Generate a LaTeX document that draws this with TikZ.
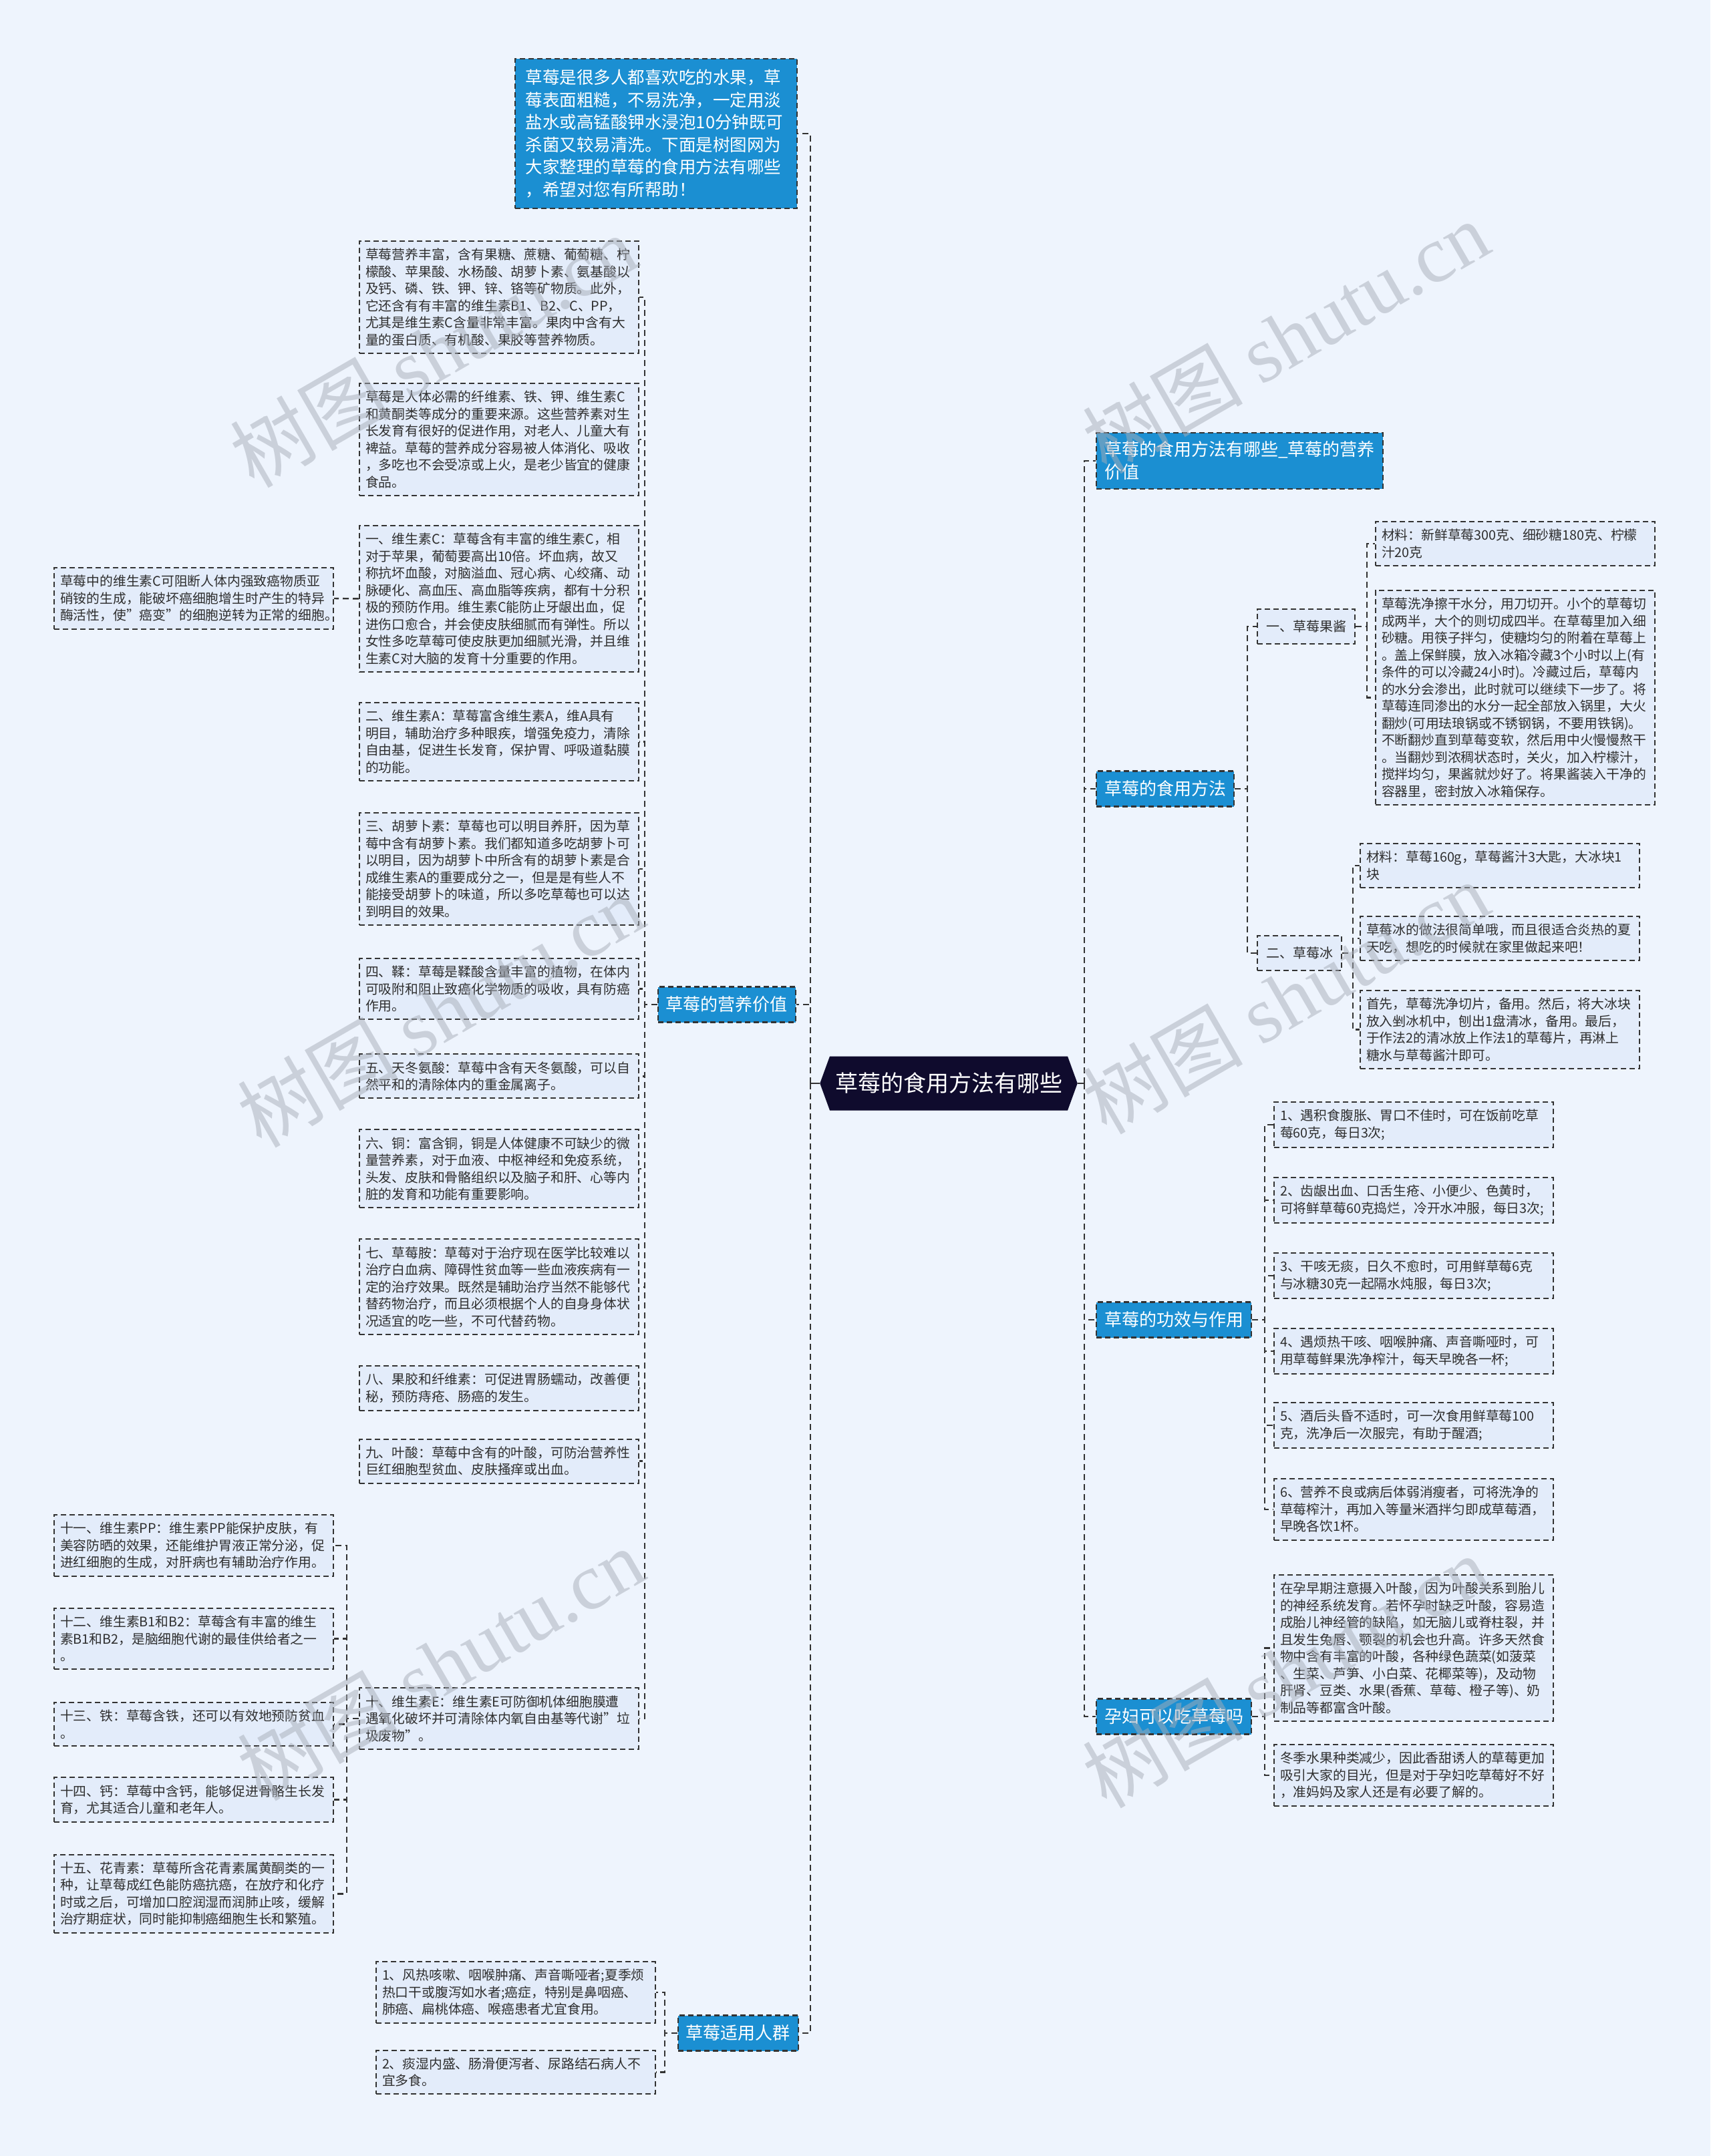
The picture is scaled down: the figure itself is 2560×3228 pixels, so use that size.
\documentclass[tikz,border=0pt]{standalone}
\usepackage{fontspec}
\setmainfont{Noto Sans CJK SC}
\newfontfamily\wmlatin{Liberation Serif}
\usetikzlibrary{positioning,shapes.symbols}
\definecolor{pagebg}{HTML}{EEF4FD}
\definecolor{topicblue}{HTML}{1B8FD2}
\definecolor{leaffill}{HTML}{E3ECFA}
\definecolor{linegray}{HTML}{333333}
\definecolor{textgray}{HTML}{2E2E2E}
\definecolor{rootnavy}{HTML}{0F0B2D}
\definecolor{markgray}{HTML}{A7ADB8}

\begin{document}
\begin{tikzpicture}[x=1pt,y=-1pt,
  node distance=44pt,
  root/.style={signal,signal to=west and east,signal pointer angle=140,fill=rootnavy,text=white,
    minimum width=375pt,minimum height=81pt,inner xsep=8pt,font=\fontsize{34}{40}\selectfont},
  topic/.style={fill=topicblue,draw=linegray,line width=2.2pt,dash pattern=on 8pt off 5pt,
    text=white,align=left,inner xsep=12pt,inner ysep=13pt,minimum height=53pt,
    font=\fontsize{26}{34}\selectfont},
  sub/.style={fill=leaffill,draw=linegray,line width=2pt,dash pattern=on 8pt off 5pt,
    text=textgray,inner xsep=13pt,minimum height=52pt,font=\fontsize{20}{26}\selectfont},
  leaf/.style={fill=leaffill,draw=linegray,line width=2pt,dash pattern=on 8pt off 5pt,
    text=textgray,align=left,text width=400pt,inner xsep=9pt,inner ysep=11pt,
    font=\fontsize{19.8}{25.5}\selectfont},
  link/.style={draw=linegray,line width=2.4pt,dash pattern=on 9pt off 6pt},
  stub/.style={draw=linegray,line width=2.6pt},
  wmark/.style={rotate=30,text=markgray,text opacity=0.5,font=\fontsize{120}{130}\selectfont}
]
\fill[pagebg] (0,0) rectangle (2560,3228);
\useasboundingbox (0,0) rectangle (2560,3228);

\node[root] (root) at (1420,1622) {草莓的食用方法有哪些};

% left side
\node[topic,anchor=east,text width=390pt,inner xsep=16pt,inner ysep=16pt,
  font=\fontsize{25.5}{33.5}\selectfont] (intro) at (1194,200) {草莓是很多人都喜欢吃的水果，草\\莓表面粗糙，不易洗净，一定用淡\\盐水或高锰酸钾水浸泡10分钟既可\\杀菌又较易清洗。下面是树图网为\\大家整理的草莓的食用方法有哪些\\，希望对您有所帮助！};
\node[topic,anchor=east] (nutri) at (1192,1504) {草莓的营养价值};
\node[topic,anchor=east] (crowd) at (1196,3044) {草莓适用人群};

\node[leaf,anchor=north west] (n1) at (537,360) {草莓营养丰富，含有果糖、蔗糖、葡萄糖、柠\\檬酸、苹果酸、水杨酸、胡萝卜素、氨基酸以\\及钙、磷、铁、钾、锌、铬等矿物质。此外，\\它还含有有丰富的维生素B1、B2、C、PP，\\尤其是维生素C含量非常丰富。果肉中含有大\\量的蛋白质、有机酸、果胶等营养物质。};
\node[leaf,below=43pt of n1] (n2) {草莓是人体必需的纤维素、铁、钾、维生素C\\和黄酮类等成分的重要来源。这些营养素对生\\长发育有很好的促进作用，对老人、儿童大有\\裨益。草莓的营养成分容易被人体消化、吸收\\，多吃也不会受凉或上火，是老少皆宜的健康\\食品。};
\node[leaf,below=43pt of n2] (n3) {一、维生素C：草莓含有丰富的维生素C，相\\对于苹果，葡萄要高出10倍。坏血病，故又\\称抗坏血酸，对脑溢血、冠心病、心绞痛、动\\脉硬化、高血压、高血脂等疾病，都有十分积\\极的预防作用。维生素C能防止牙龈出血，促\\进伤口愈合，并会使皮肤细腻而有弹性。所以\\女性多吃草莓可使皮肤更加细腻光滑，并且维\\生素C对大脑的发育十分重要的作用。};
\node[leaf,below=44pt of n3] (n4) {二、维生素A：草莓富含维生素A，维A具有\\明目，辅助治疗多种眼疾，增强免疫力，清除\\自由基，促进生长发育，保护胃、呼吸道黏膜\\的功能。};
\node[leaf,below=46pt of n4] (n5) {三、胡萝卜素：草莓也可以明目养肝，因为草\\莓中含有胡萝卜素。我们都知道多吃胡萝卜可\\以明目，因为胡萝卜中所含有的胡萝卜素是合\\成维生素A的重要成分之一，但是是有些人不\\能接受胡萝卜的味道，所以多吃草莓也可以达\\到明目的效果。};
\node[leaf,below=48pt of n5] (n6) {四、鞣：草莓是鞣酸含量丰富的植物，在体内\\可吸附和阻止致癌化学物质的吸收，具有防癌\\作用。};
\node[leaf,below=50pt of n6] (n7) {五、天冬氨酸：草莓中含有天冬氨酸，可以自\\然平和的清除体内的重金属离子。};
\node[leaf,below=45pt of n7] (n8) {六、铜：富含铜，铜是人体健康不可缺少的微\\量营养素，对于血液、中枢神经和免疫系统，\\头发、皮肤和骨骼组织以及脑子和肝、心等内\\脏的发育和功能有重要影响。};
\node[leaf,below=45pt of n8] (n9) {七、草莓胺：草莓对于治疗现在医学比较难以\\治疗白血病、障碍性贫血等一些血液疾病有一\\定的治疗效果。既然是辅助治疗当然不能够代\\替药物治疗，而且必须根据个人的自身身体状\\况适宜的吃一些，不可代替药物。};
\node[leaf,below=45pt of n9] (n10) {八、果胶和纤维素：可促进胃肠蠕动，改善便\\秘，预防痔疮、肠癌的发生。};
\node[leaf,below=41pt of n10] (n11) {九、叶酸：草莓中含有的叶酸，可防治营养性\\巨红细胞型贫血、皮肤搔痒或出血。};
\node[leaf,anchor=west] (n12) at (537,2573) {十、维生素E：维生素E可防御机体细胞膜遭\\遇氧化破坏并可清除体内氧自由基等代谢"垃\\圾废物"。};

\node[leaf,anchor=east] (c1) at (500,896) {草莓中的维生素C可阻断人体内强致癌物质亚\\硝铵的生成，能破坏癌细胞增生时产生的特异\\酶活性，使"癌变"的细胞逆转为正常的细胞。};

\node[leaf,anchor=north east] (e11) at (500,2267) {十一、维生素PP：维生素PP能保护皮肤，有\\美容防晒的效果，还能维护胃液正常分泌，促\\进红细胞的生成，对肝病也有辅助治疗作用。};
\node[leaf,below=46pt of e11] (e12) {十二、维生素B1和B2：草莓含有丰富的维生\\素B1和B2，是脑细胞代谢的最佳供给者之一\\。};
\node[leaf,below=48pt of e12] (e13) {十三、铁：草莓含铁，还可以有效地预防贫血\\。};
\node[leaf,below=45pt of e13] (e14) {十四、钙：草莓中含钙，能够促进骨骼生长发\\育，尤其适合儿童和老年人。};
\node[leaf,below=47pt of e14] (e15) {十五、花青素：草莓所含花青素属黄酮类的一\\种，让草莓成红色能防癌抗癌，在放疗和化疗\\时或之后，可增加口腔润湿而润肺止咳，缓解\\治疗期症状，同时能抑制癌细胞生长和繁殖。};

\node[leaf,anchor=north west] (p1) at (562,2936) {1、风热咳嗽、咽喉肿痛、声音嘶哑者;夏季烦\\热口干或腹泻如水者;癌症，特别是鼻咽癌、\\肺癌、扁桃体癌、喉癌患者尤宜食用。};
\node[leaf,below=39pt of p1] (p2) {2、痰湿内盛、肠滑便泻者、尿路结石病人不\\宜多食。};

% right side
\node[topic,anchor=west] (subtitle) at (1640,690) {草莓的食用方法有哪些\_草莓的营养\\价值};
\node[topic,anchor=west] (method) at (1640,1181) {草莓的食用方法};
\node[topic,anchor=west] (effect) at (1640,1976) {草莓的功效与作用};
\node[topic,anchor=west] (preg) at (1640,2570) {孕妇可以吃草莓吗};

\node[sub,anchor=west] (jam) at (1881,938) {一、草莓果酱};
\node[sub,anchor=west] (ice) at (1881,1427) {二、草莓冰};

\node[leaf,anchor=north west] (j1) at (2058,780) {材料：新鲜草莓300克、细砂糖180克、柠檬\\汁20克};
\node[leaf,below=35pt of j1] (j2) {草莓洗净擦干水分，用刀切开。小个的草莓切\\成两半，大个的则切成四半。在草莓里加入细\\砂糖。用筷子拌匀，使糖均匀的附着在草莓上\\。盖上保鲜膜，放入冰箱冷藏3个小时以上(有\\条件的可以冷藏24小时)。冷藏过后，草莓内\\的水分会渗出，此时就可以继续下一步了。将\\草莓连同渗出的水分一起全部放入锅里，大火\\翻炒(可用珐琅锅或不锈钢锅，不要用铁锅)。\\不断翻炒直到草莓变软，然后用中火慢慢熬干\\。当翻炒到浓稠状态时，关火，加入柠檬汁，\\搅拌均匀，果酱就炒好了。将果酱装入干净的\\容器里，密封放入冰箱保存。};

\node[leaf,anchor=north west] (i1) at (2035,1262) {材料：草莓160g，草莓酱汁3大匙，大冰块1\\块};
\node[leaf,below=41pt of i1] (i2) {草莓冰的做法很简单哦，而且很适合炎热的夏\\天吃，想吃的时候就在家里做起来吧！};
\node[leaf,below=43pt of i2] (i3) {首先，草莓洗净切片，备用。然后，将大冰块\\放入剉冰机中，刨出1盘清冰，备用。最后，\\于作法2的清冰放上作法1的草莓片，再淋上\\糖水与草莓酱汁即可。};

\node[leaf,anchor=north west] (f1) at (1906,1649) {1、遇积食腹胀、胃口不佳时，可在饭前吃草\\莓60克，每日3次;};
\node[leaf,below=43pt of f1] (f2) {2、齿龈出血、口舌生疮、小便少、色黄时，\\可将鲜草莓60克捣烂，冷开水冲服，每日3次;};
\node[leaf,below=43pt of f2] (f3) {3、干咳无痰，日久不愈时，可用鲜草莓6克\\与冰糖30克一起隔水炖服，每日3次;};
\node[leaf,below=43pt of f3] (f4) {4、遇烦热干咳、咽喉肿痛、声音嘶哑时，可\\用草莓鲜果洗净榨汁，每天早晚各一杯;};
\node[leaf,below=41pt of f4] (f5) {5、酒后头昏不适时，可一次食用鲜草莓100\\克，洗净后一次服完，有助于醒酒;};
\node[leaf,below=44pt of f5] (f6) {6、营养不良或病后体弱消瘦者，可将洗净的\\草莓榨汁，再加入等量米酒拌匀即成草莓酒，\\早晚各饮1杯。};

\node[leaf,anchor=north west] (y1) at (1906,2357) {在孕早期注意摄入叶酸，因为叶酸关系到胎儿\\的神经系统发育。若怀孕时缺乏叶酸，容易造\\成胎儿神经管的缺陷，如无脑儿或脊柱裂，并\\且发生兔唇、颚裂的机会也升高。许多天然食\\物中含有丰富的叶酸，各种绿色蔬菜(如菠菜\\、生菜、芦笋、小白菜、花椰菜等)，及动物\\肝肾、豆类、水果(香蕉、草莓、橙子等)、奶\\制品等都富含叶酸。};
\node[leaf,below=33pt of y1] (y2) {冬季水果种类减少，因此香甜诱人的草莓更加\\吸引大家的目光，但是对于孕妇吃草莓好不好\\，准妈妈及家人还是有必要了解的。};

% connectors
\coordinate (lt) at (1213,1622);
\coordinate (rt) at (1623,1622);
\draw[stub] (root.west) -- (lt);
\draw[stub] (root.east) -- (rt);
\foreach \t in {intro,nutri,crowd} \draw[link] (lt) |- (\t.east);
\foreach \t in {subtitle,method,effect,preg} \draw[link] (rt) |- (\t.west);
\foreach \i in {1,...,12} \draw[link] (nutri.west) -- ++(-19,0) |- (n\i.east);
\draw[link] (n3.west) -- (c1.east);
\foreach \i in {11,...,15} \draw[link] (n12.west) -- ++(-18,0) |- (e\i.east);
\foreach \i in {1,2} \draw[link] (crowd.west) -- ++(-19,0) |- (p\i.east);
\foreach \t in {jam,ice} \draw[link] (method.east) -- ++(19,0) |- (\t.west);
\foreach \i in {1,2} \draw[link] (jam.east) -- ++(17,0) |- (j\i.west);
\foreach \i in {1,2,3} \draw[link] (ice.east) -- ++(16,0) |- (i\i.west);
\foreach \i in {1,...,6} \draw[link] (effect.east) -- ++(19,0) |- (f\i.west);
\foreach \i in {1,2} \draw[link] (preg.east) -- ++(19,0) |- (y\i.west);

% watermark
\foreach \p [count=\k] in {(648,525),(1924,504),(659,1513),(1924,1493),(659,2491),(1924,2502)}
  \node[wmark] (wm\k) at \p {树图 {\wmlatin shutu.cn}};
\end{tikzpicture}
\end{document}
